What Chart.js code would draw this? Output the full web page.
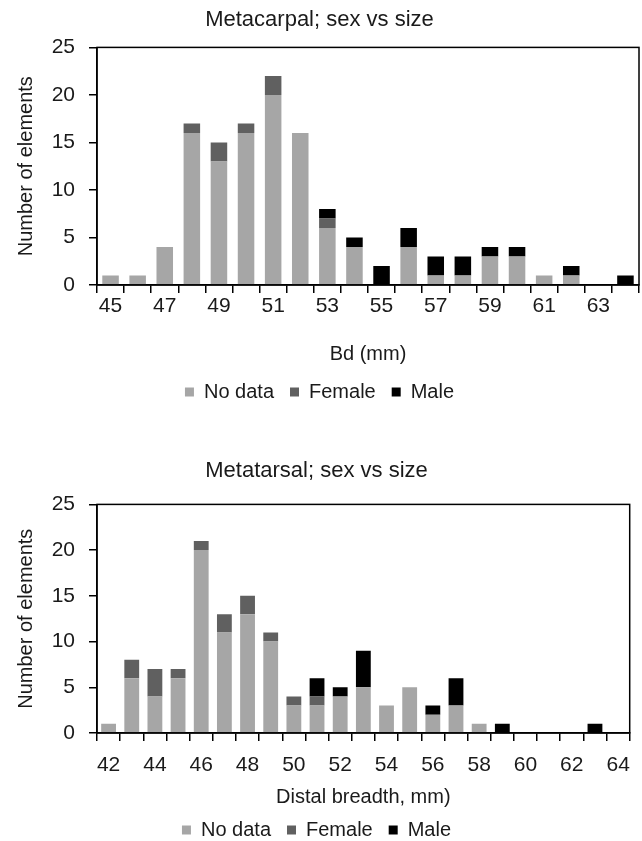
<!DOCTYPE html>
<html>
<head>
<meta charset="utf-8">
<script src="https://cdn.jsdelivr.net/npm/chart.js@4.4.0/dist/chart.umd.min.js"></script>
<style>
  html, body { margin: 0; padding: 0; background: #fff; overflow: hidden; }
  .box { position: absolute; left: 0; width: 642px; }
  #box1 { top: 0; height: 420px; }
  #box2 { top: 420px; height: 430px; }
</style>
</head>
<body>
<div class="box" id="box1"><canvas id="chart1"></canvas></div>
<div class="box" id="box2"><canvas id="chart2"></canvas></div>
<script>
// metacarpal, Bd (mm)
const carpalSizes = ['45','46','47','48','49','50','51','52','53','54','55','56','57','58','59','60','61','62','63','64'];
const carpalNoData = [1, 1, 4, 16, 13, 16, 20, 16, 6, 4, 0, 4, 1, 1, 3, 3, 1, 1, 0, 0];
const carpalFemale = [0, 0, 0, 1, 2, 1, 2, 0, 1, 0, 0, 0, 0, 0, 0, 0, 0, 0, 0, 0];
const carpalMale   = [0, 0, 0, 0, 0, 0, 0, 0, 1, 1, 2, 2, 2, 2, 1, 1, 0, 1, 0, 1];

// metatarsal, distal breadth (mm)
const tarsalSizes = ['42','43','44','45','46','47','48','49','50','51','52','53','54','55','56','57','58','59','60','61','62','63','64'];
const tarsalNoData = [1, 6, 4, 6, 20, 11, 13, 10, 3, 3, 4, 5, 3, 5, 2, 3, 1, 0, 0, 0, 0, 0, 0];
const tarsalFemale = [0, 2, 3, 1, 1, 2, 2, 1, 1, 1, 0, 0, 0, 0, 0, 0, 0, 0, 0, 0, 0, 0, 0];
const tarsalMale   = [0, 0, 0, 0, 0, 0, 0, 0, 0, 2, 1, 4, 0, 0, 1, 3, 0, 1, 0, 0, 0, 1, 0];

const seriesNames = ['No data', 'Female', 'Male'];
const seriesColors = ['#a6a6a6', '#606060', '#000000'];
const yTicks = { min: 0, max: 25, step: 5 };

const FONT = "'Liberation Sans', Arial, sans-serif";
const INK = '#1a1a1a';

// black frame around the plot area (Excel style)
const plotFrame = {
    id: 'plotFrame',
    afterDatasetsDraw(chart) {
        const { ctx, chartArea: a } = chart;
        ctx.save();
        ctx.strokeStyle = '#000';
        ctx.lineWidth = 1.5;
        ctx.strokeRect(a.left, a.top, a.right - a.left, a.bottom - a.top);
        ctx.restore();
    }
};

const makeChart = (id, opts) => {
    const datasets = [opts.noData, opts.female, opts.male].map((values, i) => ({
        label: seriesNames[i],
        data: values,
        backgroundColor: seriesColors[i],
        borderWidth: 0,
        categoryPercentage: 1,
        barPercentage: opts.barPct
    }));

    return new Chart(document.getElementById(id), {
        type: 'bar',
        data: { labels: opts.labels, datasets },
        plugins: [plotFrame],
        options: {
            responsive: true,
            maintainAspectRatio: false,
            animation: false,
            layout: { padding: opts.layoutPad },
            plugins: {
                title: {
                    display: true,
                    text: opts.title,
                    color: INK,
                    font: { family: FONT, size: 22, weight: 'normal' },
                    padding: opts.titlePad
                },
                legend: {
                    position: 'bottom',
                    labels: {
                        color: INK,
                        font: { family: FONT, size: 20 },
                        boxWidth: 9,
                        boxHeight: 9,
                        padding: 16
                    }
                },
                tooltip: { enabled: false }
            },
            scales: {
                x: {
                    stacked: true,
                    afterFit: (scale) => { scale.height = opts.xHeight; },
                    border: { color: '#000', width: 1.5 },
                    grid: { offset: true, drawOnChartArea: false, drawTicks: true, tickLength: 8, color: '#000', lineWidth: 1.5 },
                    ticks: {
                        autoSkip: false,
                        maxRotation: 0,
                        padding: opts.xTickPad,
                        color: INK,
                        font: { family: FONT, size: 21 },
                        callback: (v, i) => (i % 2 === 0 ? opts.labels[i] : '')
                    },
                    title: {
                        display: true,
                        text: opts.xTitle,
                        color: INK,
                        font: { family: FONT, size: 20 },
                        padding: { top: 0, bottom: opts.xTitlePad }
                    }
                },
                y: {
                    stacked: true,
                    min: yTicks.min,
                    max: yTicks.max,
                    afterFit: (scale) => { scale.width = 97; },
                    border: { color: '#000', width: 1.5 },
                    grid: { drawOnChartArea: false, drawTicks: true, tickLength: 8, color: '#000', lineWidth: 1.5 },
                    ticks: {
                        stepSize: yTicks.step,
                        padding: 14,
                        color: INK,
                        font: { family: FONT, size: 21 }
                    },
                    title: {
                        display: true,
                        text: 'Number of elements',
                        color: INK,
                        font: { family: FONT, size: 20 },
                        padding: { top: 14, bottom: 0 }
                    }
                }
            }
        }
    });
};

makeChart('chart1', {
    title: 'Metacarpal; sex vs size',
    xTitle: 'Bd (mm)',
    labels: carpalSizes,
    noData: carpalNoData,
    female: carpalFemale,
    male: carpalMale,
    barPct: 0.61,
    layoutPad: { top: 0, left: 0, right: 3, bottom: 8 },
    titlePad: { top: 7, bottom: 14 },
    xHeight: 81,
    xTickPad: 1,
    xTitlePad: 0
});

makeChart('chart2', {
    title: 'Metatarsal; sex vs size',
    xTitle: 'Distal breadth, mm)',
    labels: tarsalSizes,
    noData: tarsalNoData,
    female: tarsalFemale,
    male: tarsalMale,
    barPct: 0.64,
    layoutPad: { top: 0, left: 0, right: 9, bottom: 0 },
    titlePad: { top: 38, bottom: 20 },
    xHeight: 71,
    xTickPad: 12,
    xTitlePad: -5
});
</script>
</body>
</html>
